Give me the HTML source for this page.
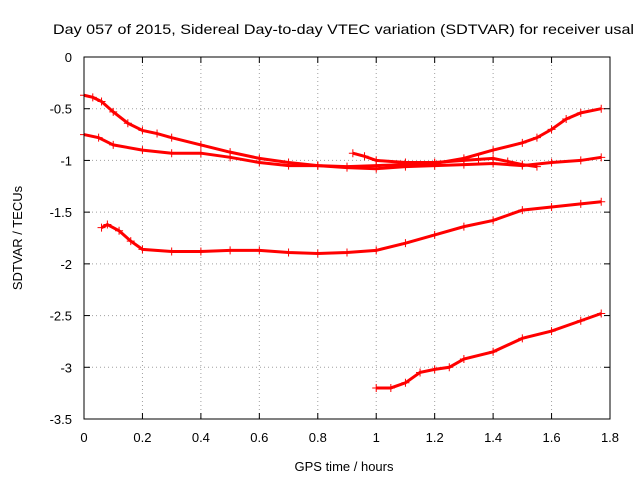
<!DOCTYPE html>
<html><head><meta charset="utf-8"><style>
body{margin:0;background:#fff}
svg text{font-family:"Liberation Sans",sans-serif;font-size:13px;fill:#000}
</style></head><body>
<svg id="c" width="640" height="480" xmlns="http://www.w3.org/2000/svg">
<text x="53" y="34" style="font-size:14px" textLength="581" lengthAdjust="spacingAndGlyphs">Day 057 of 2015, Sidereal Day-to-day VTEC variation (SDTVAR) for receiver usal</text>
<text x="344" y="471" text-anchor="middle">GPS time / hours</text>
<text transform="translate(22,238) rotate(-90)" text-anchor="middle">SDTVAR / TECUs</text>
<g id="grid"></g><g id="series"></g><g id="axes"></g>
</svg>
<script>
const xTicks=[0,0.2,0.4,0.6,0.8,1,1.2,1.4,1.6,1.8];
const xTickLabels=["0","0.2","0.4","0.6","0.8","1","1.2","1.4","1.6","1.8"];
const yTicks=[0,-0.5,-1,-1.5,-2,-2.5,-3,-3.5];
const yTickLabels=["0","-0.5","-1","-1.5","-2","-2.5","-3","-3.5"];
const sAx=[0,0.03,0.06,0.1,0.15,0.2,0.25,0.3,0.4,0.5,0.6,0.7,0.8,0.9,1.0,1.1,1.2,1.3,1.4,1.5,1.55,1.6,1.65,1.7,1.77];
const sAy=[-0.37,-0.39,-0.43,-0.53,-0.64,-0.71,-0.74,-0.78,-0.85,-0.92,-0.98,-1.02,-1.05,-1.06,-1.05,-1.04,-1.03,-0.98,-0.9,-0.83,-0.78,-0.7,-0.6,-0.54,-0.5];
const sBx=[0,0.05,0.1,0.2,0.3,0.4,0.5,0.6,0.7,0.8,0.9,1.0,1.1,1.2,1.3,1.4,1.5,1.6,1.7,1.77];
const sBy=[-0.75,-0.78,-0.85,-0.9,-0.93,-0.93,-0.97,-1.02,-1.05,-1.05,-1.07,-1.08,-1.06,-1.05,-1.04,-1.03,-1.05,-1.02,-1.0,-0.97];
const sCx=[0.92,0.96,1.0,1.1,1.2,1.3,1.35,1.4,1.45,1.5,1.55];
const sCy=[-0.93,-0.96,-1.0,-1.02,-1.02,-1.0,-0.99,-0.98,-1.01,-1.04,-1.06];
const sDx=[0.06,0.08,0.12,0.16,0.2,0.3,0.4,0.5,0.6,0.7,0.8,0.9,1.0,1.1,1.2,1.3,1.4,1.5,1.6,1.7,1.77];
const sDy=[-1.65,-1.62,-1.68,-1.78,-1.86,-1.88,-1.88,-1.87,-1.87,-1.89,-1.9,-1.89,-1.87,-1.8,-1.72,-1.64,-1.58,-1.48,-1.45,-1.42,-1.4];
const sEx=[1.0,1.05,1.1,1.15,1.2,1.25,1.3,1.4,1.5,1.6,1.7,1.77];
const sEy=[-3.2,-3.2,-3.15,-3.05,-3.02,-3.0,-2.92,-2.85,-2.72,-2.65,-2.55,-2.48];
const L=84,R=610,T=57,B=419,NS="http://www.w3.org/2000/svg";
const X=v=>L+(v-0)/1.8*(R-L), Y=v=>T+(0-v)/3.5*(B-T);
function mk(t,a,p){const e=document.createElementNS(NS,t);for(const k in a)e.setAttribute(k,a[k]);p.appendChild(e);return e;}
const g=document.getElementById('grid'),ax=document.getElementById('axes'),se=document.getElementById('series');
xTicks.forEach((v,i)=>{const x=X(v);
 if(i>0&&i<xTicks.length-1){const l=mk('line',{x1:x,x2:x,y1:T,y2:B,stroke:'#a0a0a0','stroke-dasharray':'1,3'},g);}
 mk('line',{x1:x,x2:x,y1:B,y2:B-6,stroke:'#000'},ax);mk('line',{x1:x,x2:x,y1:T,y2:T+6,stroke:'#000'},ax);
 const t=mk('text',{x:x,y:B+23,'text-anchor':'middle'},ax);t.textContent=xTickLabels[i];
 });
yTicks.forEach((v,i)=>{const y=Y(v);
 if(i>0&&i<yTicks.length-1){const l=mk('line',{x1:L,x2:R,y1:y,y2:y,stroke:'#a0a0a0','stroke-dasharray':'1,3'},g);}
 mk('line',{x1:L,x2:L+6,y1:y,y2:y,stroke:'#000'},ax);mk('line',{x1:R,x2:R-6,y1:y,y2:y,stroke:'#000'},ax);
 const t=mk('text',{x:L-12,y:y+5,'text-anchor':'end'},ax);t.textContent=yTickLabels[i];
 });
const fr=mk('rect',{x:L,y:T,width:R-L,height:B-T,fill:'none',stroke:'#000'},ax);

[[sAx,sAy],[sBx,sBy],[sCx,sCy],[sDx,sDy],[sEx,sEy]].forEach((s,k)=>{
 const grp=mk('g',{},se);
 const pts=s[0].map((x,i)=>X(x)+','+Y(s[1][i])).join(' ');
 mk('polyline',{points:pts,fill:'none',stroke:'#ff0000','stroke-width':3},grp);
 s[0].forEach((x,i)=>{const px=X(x),py=Y(s[1][i]);
  const p=mk('path',{d:`M${px-4},${py}H${px+4}M${px},${py-4}V${py+4}`,stroke:'#ff0000','stroke-width':1},grp);
  });
});
</script>
</body></html>
